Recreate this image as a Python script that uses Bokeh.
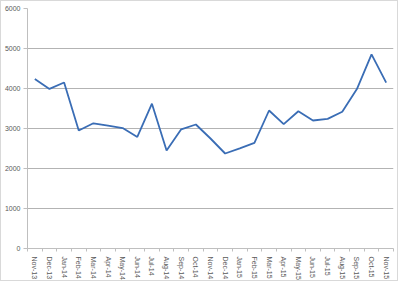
import numpy as np
from bokeh.plotting import figure
from bokeh.models import FixedTicker, Range1d
from bokeh.embed import file_html
from bokeh.resources import INLINE

months = ["Nov-13", "Dec-13", "Jan-14", "Feb-14", "Mar-14", "Apr-14", "May-14",
          "Jun-14", "Jul-14", "Aug-14", "Sep-14", "Oct-14", "Nov-14", "Dec-14",
          "Jan-15", "Feb-15", "Mar-15", "Apr-15", "May-15", "Jun-15", "Jul-15",
          "Aug-15", "Sep-15", "Oct-15", "Nov-15"]
values = [4240, 3990, 4150, 2950, 3130, 3070, 3010, 2790, 3620, 2450, 2980,
          3100, 2750, 2375, 2505, 2640, 3450, 3110, 3430, 3200, 3240, 3420,
          3985, 4855, 4145]
y_ticks = [0, 1000, 2000, 3000, 4000, 5000, 6000]

n = len(months)
xc = np.arange(n) + 0.5

p = figure(width=398, height=281, output_backend="svg", toolbar_location=None,
           x_range=Range1d(0, n), y_range=Range1d(0, 6000),
           min_border_left=26, min_border_top=7, min_border_right=6,
           min_border_bottom=31)
p.styles = {"border": "1px solid #d9d9d9"}
p.outline_line_color = None
p.background_fill_color = "white"
p.border_fill_color = "white"

p.line(xc, values, line_color="#3a6db5", line_width=1.8)

font = "Liberation Sans"
xa = p.xaxis[0]
xa.ticker = FixedTicker(ticks=list(xc), minor_ticks=list(np.arange(n + 1)))
xa.major_label_overrides = {float(x): m for x, m in zip(xc, months)}
xa.major_label_orientation = "vertical"
xa.major_tick_in = 0
xa.major_tick_out = 0
xa.minor_tick_in = 0
xa.minor_tick_out = 3
xa.minor_tick_line_color = "#bfbfbf"
xa.axis_line_color = "#bfbfbf"
xa.major_label_text_font = font
xa.major_label_text_font_size = "7px"
xa.major_label_text_color = "#595959"
xa.major_label_standoff = 5

ya = p.yaxis[0]
ya.ticker = FixedTicker(ticks=y_ticks)
ya.major_tick_in = 0
ya.major_tick_out = 4
ya.major_tick_line_color = "#bfbfbf"
ya.minor_tick_line_color = None
ya.axis_line_color = "#bfbfbf"
ya.major_label_text_font = font
ya.major_label_text_font_size = "7px"
ya.major_label_text_color = "#595959"
ya.major_label_standoff = 3

p.xgrid.grid_line_color = None
p.ygrid.grid_line_color = "#b3b3b3"
p.ygrid.ticker = FixedTicker(ticks=y_ticks)

open("out.html", "w").write(file_html(p, INLINE))
